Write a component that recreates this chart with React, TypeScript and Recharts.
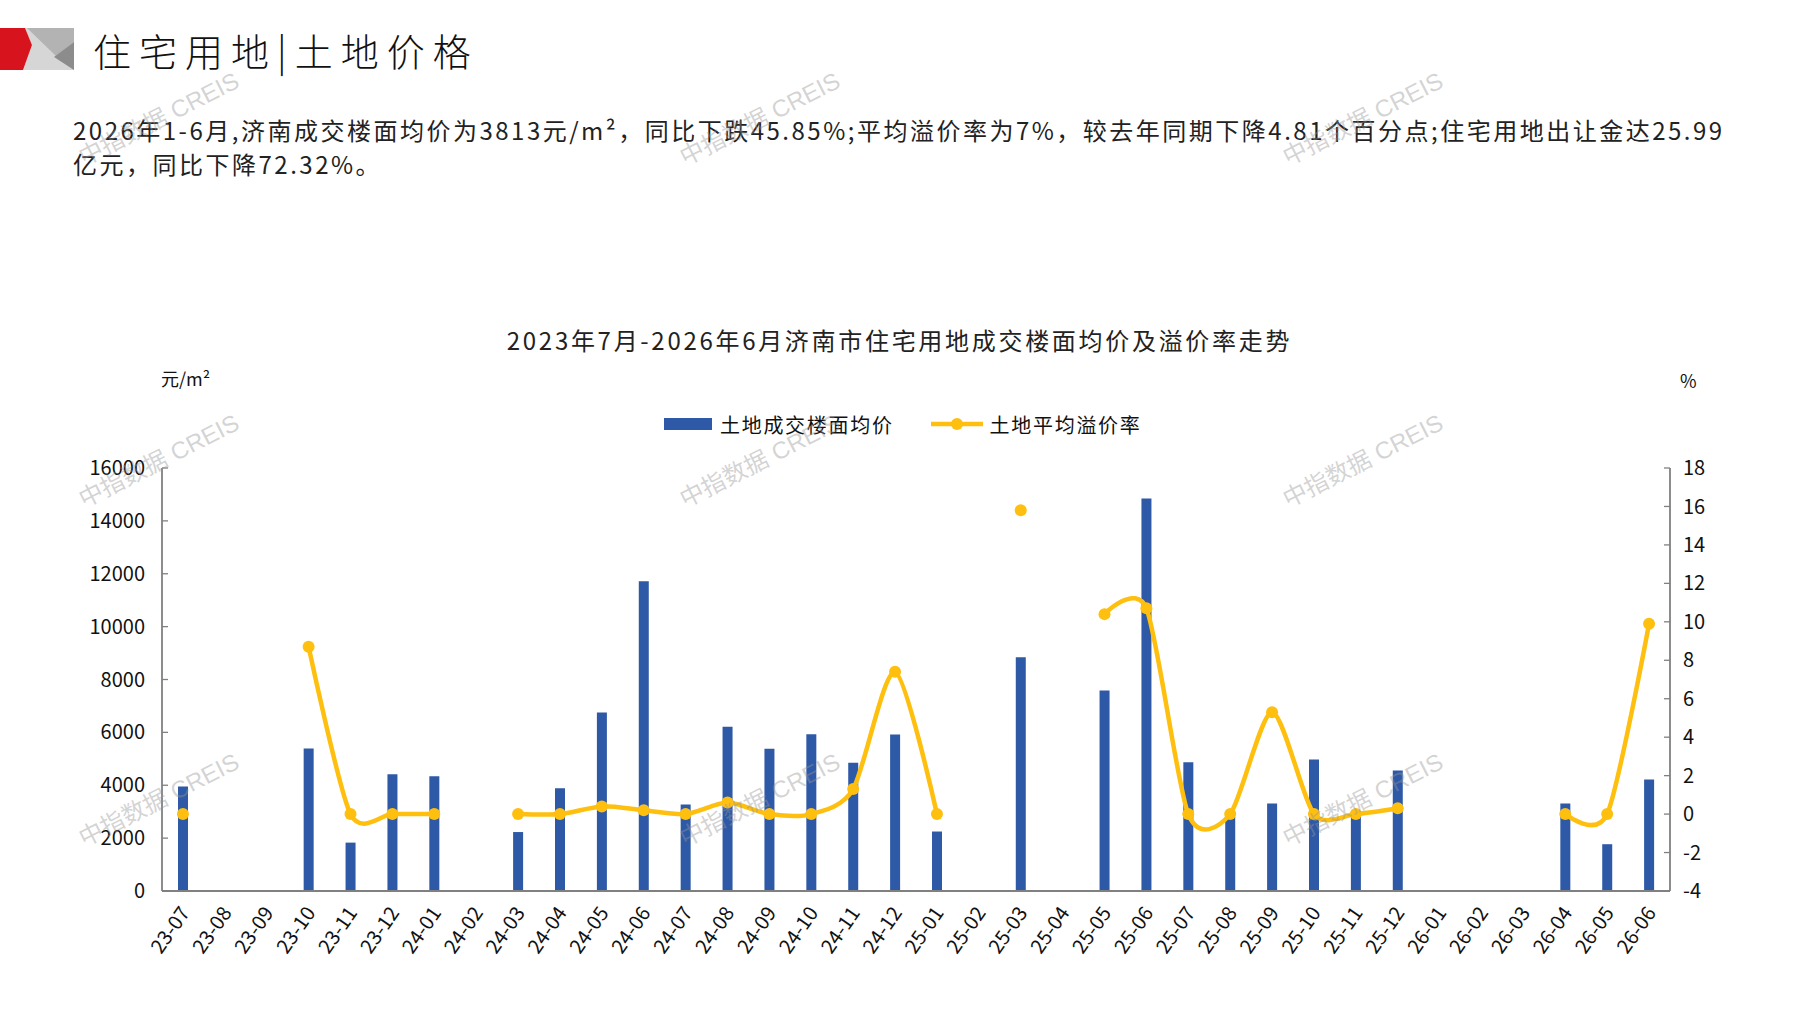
import React from 'react';
import { ComposedChart, Bar, Line, XAxis, YAxis, Legend } from 'recharts';

const months = [
  '23-07', '23-08', '23-09', '23-10', '23-11', '23-12',
  '24-01', '24-02', '24-03', '24-04', '24-05', '24-06',
  '24-07', '24-08', '24-09', '24-10', '24-11', '24-12',
  '25-01', '25-02', '25-03', '25-04', '25-05', '25-06',
  '25-07', '25-08', '25-09', '25-10', '25-11', '25-12',
  '26-01', '26-02', '26-03', '26-04', '26-05', '26-06',
];

const landPrice: (number | null)[] = [
  3950, null, null, 5390, 1830, 4420,
  4340, null, 2230, 3890, 6750, 11720,
  3270, 6210, 5380, 5930, 4850, 5920,
  2250, null, 8840, null, 7580, 14850,
  4870, 2800, 3310, 4970, 2900, 4560,
  null, null, null, 3310, 1770, 4220,
];

const premiumRate: (number | null)[] = [
  0, null, null, 8.7, 0, 0,
  0, null, 0, 0, 0.4, 0.2,
  0, 0.6, 0, 0, 1.3, 7.4,
  0, null, 15.8, null, 10.4, 10.7,
  0, 0, 5.3, 0, 0, 0.3,
  null, null, null, 0, 0, 9.9,
];

const leftTicks = [0, 2000, 4000, 6000, 8000, 10000, 12000, 14000, 16000];
const rightTicks = [-4, -2, 0, 2, 4, 6, 8, 10, 12, 14, 16, 18];

const barName = '土地成交楼面均价';
const lineName = '土地平均溢价率';
const chartTitle = '2023年7月-2026年6月济南市住宅用地成交楼面均价及溢价率走势';
const pageTitle = '住宅用地|土地价格';
const paragraphLines = [
  '2026年1-6月,济南成交楼面均价为3813元/m²，同比下跌45.85%;平均溢价率为7%，较去年同期下降4.81个百分点;住宅用地出让金达25.99',
  '亿元，同比下降72.32%。',
];
const watermark = '中指数据 CREIS';

const data = months.map((m, i) => ({ month: m, price: landPrice[i], rate: premiumRate[i] }));
const edgeTicks = [...months.map((_, i) => i), months.length];

const BAR_COLOR = '#2E59A7';
const LINE_COLOR = '#FFBF0F';
const AXIS_COLOR = '#808080';
const FONT = '"Noto Sans CJK SC", "Noto Sans", sans-serif';

// Cardinal-style smoothing curve, similar to spreadsheet smoothed lines
function smoothCurve(context: any) {
  const k = 0.13;
  let x0 = NaN, y0 = NaN, x1 = NaN, y1 = NaN, x2 = NaN, y2 = NaN;
  let pt = 0;
  let line: number = NaN;
  const bez = (x: number, y: number) => {
    context.bezierCurveTo(
      x1 + k * (x2 - x0), y1 + k * (y2 - y0),
      x2 + k * (x1 - x), y2 + k * (y1 - y),
      x2, y2,
    );
  };
  return {
    areaStart() { line = 0; },
    areaEnd() { line = NaN; },
    lineStart() { x0 = x1 = x2 = y0 = y1 = y2 = NaN; pt = 0; },
    lineEnd() {
      if (pt === 2) context.lineTo(x2, y2);
      else if (pt === 3) bez(x1, y1);
      if (line || (line !== 0 && pt === 1)) context.closePath();
      line = 1 - line;
    },
    point(xIn: number, yIn: number) {
      const x = +xIn, y = +yIn;
      switch (pt) {
        case 0: pt = 1; if (line) context.lineTo(x, y); else context.moveTo(x, y); break;
        case 1: pt = 2; x1 = x; y1 = y; break;
        case 2: pt = 3; bez(x, y); break;
        default: bez(x, y); break;
      }
      x0 = x1; x1 = x2; x2 = x;
      y0 = y1; y1 = y2; y2 = y;
    },
  };
}

const XTick = (props: any) => {
  const { x, y, payload } = props;
  return (
    <g transform={`translate(${x + 2},${y + 18})`}>
      <text textAnchor="end" transform="rotate(-55)" dy="0.35em" fontSize={20} fill="#111" fontFamily={FONT}>
        {payload.value}
      </text>
    </g>
  );
};

const LegendContent = (props: any) => {
  const payload = [...(props.payload || [])].sort(
    (a: any, b: any) => (a.type === 'line' ? 1 : 0) - (b.type === 'line' ? 1 : 0),
  );
  return (
    <div style={{ position: 'relative', height: 0 }}>
      <div
        style={{
          position: 'absolute', left: 664, top: 411, height: 26, display: 'flex', alignItems: 'center',
          whiteSpace: 'nowrap', fontFamily: FONT, fontSize: 20, letterSpacing: 1.7, color: '#111',
        }}
      >
        {payload.map((item: any, i: number) => (
          <div key={i} style={{ display: 'flex', alignItems: 'center', marginRight: i === 0 ? 36 : 0 }}>
            {item.type === 'line' ? (
              <svg width={54} height={16} style={{ marginRight: 6 }}>
                <line x1={1} y1={8} x2={53} y2={8} stroke={item.color} strokeWidth={4.5} />
                <circle cx={27} cy={8} r={6} fill={item.color} />
              </svg>
            ) : (
              <div style={{ width: 48, height: 12, background: item.color, marginRight: 8 }} />
            )}
            <span>{item.value}</span>
          </div>
        ))}
      </div>
    </div>
  );
};

const wmPositions = [
  [159, 119], [760, 119], [1363, 119],
  [159, 461], [760, 461], [1363, 461],
  [159, 800], [760, 800], [1363, 800],
];

export default function App() {
  return (
    <div style={{ position: 'absolute', left: 0, top: 0, width: 1797, height: 1010, background: '#fff', overflow: 'hidden', fontFamily: FONT }}>
      <svg width={74} height={44} style={{ position: 'absolute', left: 0, top: 28 }}>
        <polygon points="25,0 74,0 74,42 23,42 32,17" fill="#d6d6d6" />
        <polygon points="27,0 74,0 74,14 56,28" fill="#b3b3b3" />
        <polygon points="74,14 54,29 74,42" fill="#8c8c8c" />
        <polygon points="0,0 25,0 32,17 23,42 0,42" fill="#d7141d" />
      </svg>
      <div style={{ position: 'absolute', left: 93, top: 26, fontSize: 38, lineHeight: '48px', letterSpacing: 8, color: '#111', whiteSpace: 'nowrap', fontWeight: 300 }}>
        {pageTitle}
      </div>
      {paragraphLines.map((t, i) => (
        <div key={i} style={{ position: 'absolute', left: 73, top: 113 + i * 34, fontSize: 24, lineHeight: '34px', letterSpacing: 2.5, color: '#222', whiteSpace: 'nowrap' }}>
          {t}
        </div>
      ))}
      <div style={{ position: 'absolute', left: 0, width: 1797, top: 324, textAlign: 'center', fontSize: 24, lineHeight: '32px', letterSpacing: 2.7, color: '#222', whiteSpace: 'nowrap', paddingLeft: 2, boxSizing: 'border-box' }}>
        {chartTitle}
      </div>
      <div style={{ position: 'absolute', left: 161, top: 366, fontSize: 18, lineHeight: '24px', color: '#111' }}>元/m²</div>
      <div style={{ position: 'absolute', left: 1680, top: 368, fontSize: 18, lineHeight: '24px', color: '#111' }}>%</div>

      <div style={{ position: 'absolute', left: 0, top: 0 }}>
        <ComposedChart
          width={1797}
          height={1010}
          data={data}
          margin={{ top: 468, bottom: 39, left: 102, right: 67 }}
        >
          <XAxis
            xAxisId="edge"
            type="number"
            domain={[0, months.length]}
            ticks={edgeTicks}
            allowDataOverflow
            mirror
            height={0}
            tick={false}
            axisLine={false}
            tickLine={{ stroke: AXIS_COLOR, strokeWidth: 1.3 }}
            tickSize={6}
            interval={0}
          />
          <XAxis
            dataKey="month"
            height={80}
            interval={0}
            tickLine={false}
            tickSize={0}
            tickMargin={0}
            axisLine={{ stroke: AXIS_COLOR, strokeWidth: 1.8 }}
            tick={<XTick />}
          />
          <YAxis
            yAxisId="left"
            width={60}
            domain={[0, 16000]}
            ticks={leftTicks}
            interval={0}
            tickSize={-6}
            tickMargin={23}
            axisLine={{ stroke: AXIS_COLOR, strokeWidth: 1.8 }}
            tickLine={{ stroke: AXIS_COLOR, strokeWidth: 1.3 }}
            tick={{ fontSize: 20, fill: '#111', fontFamily: FONT }}
          />
          <YAxis
            yAxisId="right"
            orientation="right"
            width={60}
            domain={[-4, 18]}
            ticks={rightTicks}
            interval={0}
            tickSize={-6}
            tickMargin={19}
            axisLine={{ stroke: AXIS_COLOR, strokeWidth: 1.8 }}
            tickLine={{ stroke: AXIS_COLOR, strokeWidth: 1.3 }}
            tick={{ fontSize: 20, fill: '#111', fontFamily: FONT }}
          />
          <Legend
            verticalAlign="top"
            content={<LegendContent />}
            wrapperStyle={{ top: 0, left: 0, width: 1797, height: 0 }}
          />
          <Bar
            yAxisId="left"
            dataKey="price"
            name={barName}
            fill={BAR_COLOR}
            barSize={10}
            isAnimationActive={false}
          />
          <Line
            yAxisId="right"
            dataKey="rate"
            name={lineName}
            type={smoothCurve as any}
            stroke={LINE_COLOR}
            strokeWidth={4.5}
            dot={{ r: 6, fill: LINE_COLOR, stroke: 'none', strokeWidth: 0 }}
            activeDot={false}
            isAnimationActive={false}
          />
        </ComposedChart>
      </div>

      {wmPositions.map(([cx, cy], i) => (
        <div
          key={i}
          style={{
            position: 'absolute', left: cx - 100, top: cy - 15, width: 200, height: 30, lineHeight: '30px',
            textAlign: 'center', fontSize: 24, color: 'rgba(150,150,150,0.42)', transform: 'rotate(-27deg)',
            whiteSpace: 'nowrap', pointerEvents: 'none', fontFamily: '"Liberation Sans", "Noto Sans CJK SC", sans-serif',
          }}
        >
          {watermark}
        </div>
      ))}
    </div>
  );
}
